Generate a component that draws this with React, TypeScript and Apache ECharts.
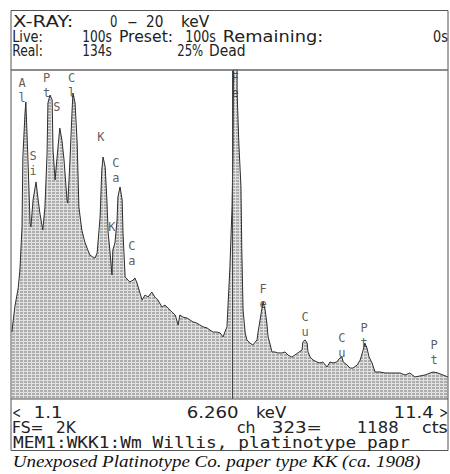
import React, { useEffect, useRef } from "react";
import * as echarts from "echarts";

// Spectrum: energy (keV) and counts (full scale 2K)
const energyKeV = [1.12,1.19,1.27,1.31,1.36,1.38,1.43,1.45,1.50,1.55,1.57,1.62,1.69,1.74,1.78,1.85,1.90,1.95,1.97,2.02,2.07,2.09,2.14,2.18,2.25,2.30,2.35,2.42,2.44,2.49,2.54,2.56,2.61,2.66,2.70,2.77,2.84,2.91,2.96,3.03,3.08,3.13,3.20,3.24,3.27,3.32,3.36,3.39,3.43,3.48,3.50,3.55,3.60,3.62,3.67,3.72,3.74,3.79,3.90,3.98,4.02,4.07,4.14,4.19,4.26,4.33,4.42,4.49,4.56,4.66,4.73,4.80,4.89,4.97,5.04,5.08,5.15,5.25,5.32,5.39,5.48,5.55,5.63,5.72,5.79,5.86,5.96,6.03,6.10,6.14,6.19,6.21,6.26,6.31,6.33,6.34,6.37,6.42,6.43,6.47,6.52,6.54,6.57,6.62,6.66,6.73,6.80,6.90,6.92,6.97,7.02,7.04,7.09,7.13,7.16,7.20,7.25,7.32,7.39,7.49,7.56,7.63,7.72,7.79,7.86,7.96,7.98,8.03,8.08,8.10,8.15,8.22,8.31,8.38,8.45,8.55,8.62,8.69,8.78,8.85,8.90,8.93,9.02,9.09,9.16,9.26,9.33,9.40,9.44,9.49,9.54,9.61,9.68,9.80,9.92,10.03,10.15,10.27,10.39,10.50,10.62,10.74,10.86,10.98,11.05,11.16,11.28,11.40];
const counts = [407,559,675,784,1046,1471,1739,1805,1453,1070,1046,1210,1319,1210,1131,1027,1167,1495,1799,1848,1818,1514,1331,1453,1647,1574,1453,1210,1191,1453,1757,1860,1799,1556,1167,1027,954,906,875,863,857,888,1106,1392,1471,1410,1210,1009,906,754,906,948,1088,1228,1289,1210,1009,742,711,723,736,705,644,602,632,620,650,620,602,559,571,553,529,511,450,511,498,492,480,468,462,450,438,432,419,407,407,401,377,407,438,541,802,1167,1471,1787,4200,4200,1860,1556,1289,906,541,401,359,340,328,359,401,480,559,590,541,462,377,340,286,286,280,280,286,267,255,267,280,298,347,359,340,286,255,237,225,219,225,195,225,219,225,249,255,225,207,188,188,207,237,298,340,310,255,219,164,164,158,158,158,158,146,158,134,140,146,158,164,158,146,134];

// Element markers above the peaks
const peakNames = ["A\nl", "S\ni", "P\nt", "S", "C\nl", "K", "C\na", "K", "C\na", "F\ne", "F\ne", "C\nu", "C\nu", "P\nt", "P\nt"];
const peakKeV = [1.36, 1.62, 1.94, 2.18, 2.53, 3.22, 3.57, 3.48, 3.95, 6.38, 7.04, 8.03, 8.90, 9.42, 11.07];
const peakCounts = [1878, 1429, 1906, 1775, 1906, 1593, 1392, 1046, 885, 1906, 623, 450, 328, 386, 280];

const cursorKeV = 6.31;
const xMinKeV = 1.1;
const xMaxKeV = 11.4;
const fullScale = 2000;

const headerTitle = ["X-RAY:", "0", "-", "20", "keV"];
const headerLive = ["Live:", "100s", "Preset:", "100s", "Remaining:", "0s"];
const headerReal = ["Real:", "134s", "25%", "Dead"];
const footerRange = ["<", "1.1", "6.260", "keV", "11.4", ">"];
const footerCursor = ["FS=", "2K", "ch", "323=", "1188", "cts"];
const footerMemo = "MEM1:WKK1:Wm Willis, platinotype papr";
const caption = "Unexposed Platinotype Co. paper type KK (ca. 1908)";

const MONO = '"DejaVu Sans Mono"';
const SANS = '"DejaVu Sans"';

function makeFitter() {
  const ctx = document.createElement("canvas").getContext("2d")!;
  return (text: string, x0: number, x1: number, yc: number, size: number, family: string, style = "normal", color = "#222") => {
    ctx.font = `${style} ${size}px ${family}`;
    const m = ctx.measureText(text);
    const inkStart = -m.actualBoundingBoxLeft;
    const inkEnd = m.actualBoundingBoxRight;
    const w = Math.max(1, inkEnd - inkStart);
    const s = (x1 - x0) / w;
    return {
      type: "text",
      x: x0 - inkStart * s,
      y: yc,
      scaleX: s,
      silent: true,
      z: 20,
      style: {
        text,
        fontSize: size,
        fontFamily: family,
        fontStyle: style,
        fill: color,
        align: "left",
        verticalAlign: "middle",
      },
    };
  };
}

function makePattern() {
  const c = document.createElement("canvas");
  c.width = 4;
  c.height = 3;
  const g = c.getContext("2d")!;
  g.fillStyle = "#adadad";
  g.fillRect(0, 0, 4, 3);
  g.fillStyle = "#e2e2e2";
  g.fillRect(3, 0, 1, 3);
  g.fillRect(0, 2, 4, 1);
  return c;
}

export default function App() {
  const ref = useRef<HTMLDivElement>(null);
  useEffect(() => {
    if (!ref.current) return;
    const chart = echarts.init(ref.current, null, { renderer: "svg" });
    const fit = makeFitter();
    const pattern = makePattern();

    const texts: any[] = [];
    const spans1 = [[13, 72], [110, 117], [127, 137], [147, 163], [182, 210]];
    headerTitle.forEach((t, i) => texts.push(fit(t, spans1[i][0], spans1[i][1], 22, 15, SANS)));
    const spans2 = [[13, 42], [83, 112], [120, 172], [186, 216], [224, 322], [433, 448]];
    headerLive.forEach((t, i) => texts.push(fit(t, spans2[i][0], spans2[i][1], 37, 15, SANS)));
    const spans3 = [[13, 42], [83, 112], [178, 203], [210, 245]];
    headerReal.forEach((t, i) => texts.push(fit(t, spans3[i][0], spans3[i][1], 51, 15, SANS)));
    const spans4 = [[13, 20], [35, 62], [188, 238], [257, 287], [395, 433], [440, 447]];
    footerRange.forEach((t, i) => texts.push(fit(t, spans4[i][0], spans4[i][1], 413, 15, SANS)));
    const spans5 = [[13, 42], [57, 77], [237, 255], [273, 320], [358, 398], [422, 448]];
    footerCursor.forEach((t, i) => texts.push(fit(t, spans5[i][0], spans5[i][1], 428, 15, SANS)));
    texts.push(fit(footerMemo, 13, 410, 443, 15, MONO));
    texts.push(fit(caption, 14, 420, 462, 16, '"Liberation Serif"', "italic", "#111"));

    const option: any = {
      animation: false,
      backgroundColor: "#ffffff",
      grid: { left: 11, right: 2, top: 70, bottom: 75, containLabel: false },
      xAxis: { type: "value", min: xMinKeV, max: xMaxKeV, show: false },
      yAxis: { type: "value", min: 0, max: fullScale, show: false },
      series: [
        {
          type: "line",
          data: energyKeV.map((k, i) => [k, counts[i]]),
          showSymbol: false,
          clip: true,
          lineStyle: { color: "#2e2e2e", width: 1 },
          areaStyle: { color: { image: pattern, repeat: "repeat", imageWidth: 4, imageHeight: 3 }, opacity: 1 },
          markLine: {
            silent: true,
            symbol: ["none", "none"],
            label: { show: false },
            lineStyle: { color: "#444", width: 1, type: "solid" },
            data: [{ xAxis: cursorKeV }],
          },
          z: 2,
        },
        {
          type: "scatter",
          data: peakNames.map((n, i) => ({ name: n, value: [peakKeV[i], peakCounts[i]] })),
          symbolSize: 1,
          itemStyle: { color: "rgba(0,0,0,0)" },
          label: {
            show: true,
            position: "inside",
            formatter: "{b}",
            fontFamily: MONO,
            fontSize: 12,
            lineHeight: 15,
            color: "#333",
          },
          z: 3,
        },
      ],
      graphic: [
        {
          type: "rect",
          shape: { x: 11, y: 10.5, width: 437, height: 440 },
          style: { fill: "none", stroke: "#555", lineWidth: 1 },
          silent: true,
          z: 10,
        },
        {
          type: "line",
          shape: { x1: 11, y1: 70, x2: 448, y2: 70 },
          style: { stroke: "#666", lineWidth: 1.5 },
          silent: true,
          z: 10,
        },
        {
          type: "line",
          shape: { x1: 11, y1: 399, x2: 448, y2: 399 },
          style: { stroke: "#555", lineWidth: 1 },
          silent: true,
          z: 10,
        },
        ...texts,
      ],
    };
    chart.setOption(option);
    return () => chart.dispose();
  }, []);
  return (
    <div
      ref={ref}
      style={{ position: "absolute", left: 0, top: 0, width: 450, height: 474, background: "#fff" }}
    />
  );
}
